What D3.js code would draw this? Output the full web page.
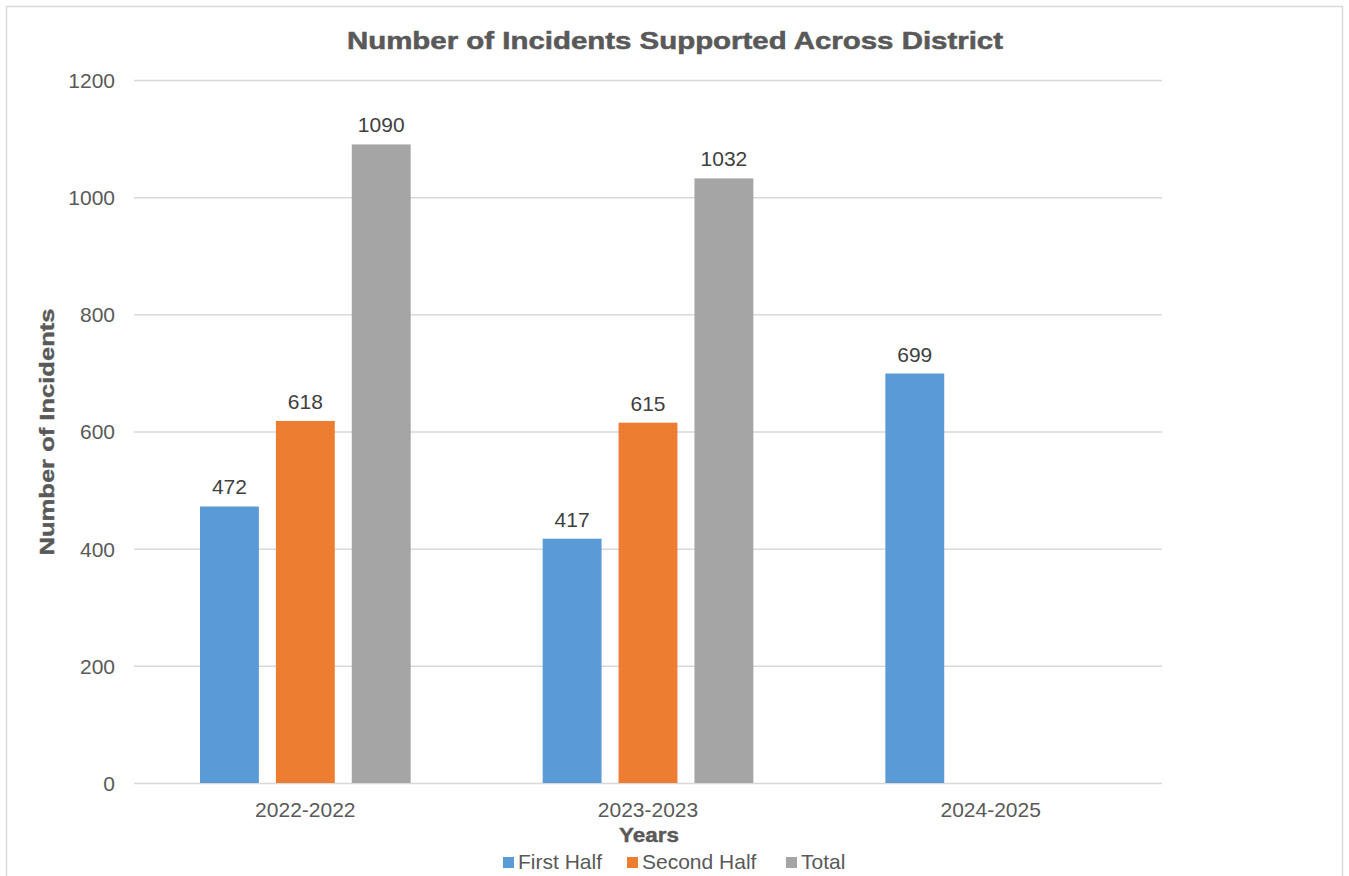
<!DOCTYPE html>
<html><head><meta charset="utf-8">
<script src="https://cdn.jsdelivr.net/npm/d3@7"></script>
<style>body{margin:0;background:#fff}svg{display:block}text{font-family:"Liberation Sans",Arial,sans-serif}</style>
</head><body>
<svg id="c" width="1349" height="876"></svg>
<script>
const categories = ["2022-2022", "2023-2023", "2024-2025"];
const seriesNames = ["First Half", "Second Half", "Total"];
const firstHalf = [472, 417, 699];
const secondHalf = [618, 615, null];
const total = [1090, 1032, null];
const yTicks = [0, 200, 400, 600, 800, 1000, 1200];
const colors = ["#5B9BD5", "#ED7D31", "#A5A5A5"];

const series = [firstHalf, secondHalf, total];
const svg = d3.select("#c");
const m = {left: 134, right: 1162, top: 80, bottom: 783};
const FS = 21;

svg.append("rect").attr("x", 6.5).attr("y", 6.5).attr("width", 1336).attr("height", 880)
  .attr("fill", "#fff").attr("stroke", "#d9d9d9").attr("stroke-width", 1.5);

const x0 = d3.scaleBand().domain(categories).range([m.left, m.right]).padding(0);
const groupPad = 66;
const x1 = d3.scaleBand().domain(seriesNames).range([groupPad, x0.bandwidth() - groupPad]).paddingInner(0.224).paddingOuter(0);
const y = d3.scaleLinear().domain([0, 1200]).range([m.bottom, m.top]);

// gridlines + y tick labels
const yAxis = d3.axisLeft(y).tickValues(yTicks).tickFormat(d3.format("d")).tickSize(-(m.right - m.left)).tickPadding(19);
const ga = svg.append("g").attr("transform", `translate(${m.left},0)`).call(yAxis);
ga.select(".domain").remove();
ga.selectAll(".tick line").attr("stroke", "#d9d9d9").attr("stroke-width", 1.5);
ga.selectAll(".tick text").attr("fill", "#595959").attr("font-size", FS)
  .attr("font-family", '"Liberation Sans",Arial,sans-serif').attr("dy", "0.35em");

// bars
const groups = svg.append("g").selectAll("g").data(categories).join("g")
  .attr("transform", d => `translate(${x0(d)},0)`);
groups.selectAll("rect").data((d, i) => series.map((s, j) => ({name: seriesNames[j], v: s[i], c: colors[j]})).filter(e => e.v != null))
  .join("rect")
  .attr("x", e => x1(e.name)).attr("width", x1.bandwidth())
  .attr("y", e => y(e.v)).attr("height", e => y(0) - y(e.v))
  .attr("fill", e => e.c);
groups.selectAll("text.lbl").data((d, i) => series.map((s, j) => ({name: seriesNames[j], v: s[i]})).filter(e => e.v != null))
  .join("text").attr("class", "lbl")
  .attr("x", e => x1(e.name) + x1.bandwidth() / 2).attr("y", e => y(e.v) - 12)
  .attr("text-anchor", "middle").attr("font-size", FS).attr("fill", "#404040")
  .text(e => e.v);

// x axis
const xAxis = d3.axisBottom(x0).tickSize(0).tickPadding(19);
const gx = svg.append("g").attr("transform", `translate(0,${m.bottom})`).call(xAxis);
gx.select(".domain").remove();
gx.selectAll(".tick text").attr("fill", "#595959").attr("font-size", FS).attr("font-family", '"Liberation Sans",Arial,sans-serif');

// title
svg.append("text").attr("x", 675).attr("y", 49).attr("text-anchor", "middle")
  .attr("font-size", 23).attr("font-weight", "bold").attr("fill", "#595959")
  .attr("stroke", "#595959").attr("stroke-width", 0.5)
  .attr("textLength", 656).attr("lengthAdjust", "spacingAndGlyphs")
  .text("Number of Incidents Supported Across District");

// axis titles
svg.append("text").attr("transform", "translate(54,432) rotate(-90)").attr("text-anchor", "middle")
  .attr("font-size", 20).attr("font-weight", "bold").attr("fill", "#595959")
  .attr("stroke", "#595959").attr("stroke-width", 0.4)
  .attr("textLength", 247).attr("lengthAdjust", "spacingAndGlyphs")
  .text("Number of Incidents");
svg.append("text").attr("x", 649).attr("y", 842).attr("text-anchor", "middle")
  .attr("font-size", 21).attr("font-weight", "bold").attr("fill", "#595959")
  .attr("stroke", "#595959").attr("stroke-width", 0.4)
  .attr("textLength", 60).attr("lengthAdjust", "spacingAndGlyphs")
  .text("Years");

// legend
const legX = [503, 627, 786];
const leg = svg.append("g").selectAll("g").data(seriesNames).join("g")
  .attr("transform", (d, i) => `translate(${legX[i]},857)`);
leg.append("rect").attr("width", 11).attr("height", 11).attr("fill", (d, i) => colors[i]);
leg.append("text").attr("x", 15).attr("y", 12).attr("font-size", FS)
  .attr("fill", "#595959").text(d => d);
</script>
</body></html>
